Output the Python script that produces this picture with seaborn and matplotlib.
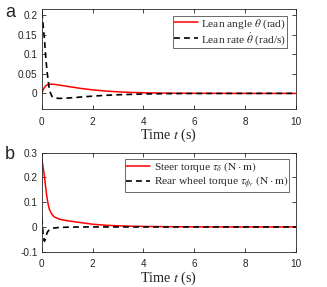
import numpy as np
import pandas as pd
import matplotlib
matplotlib.use("Agg")
import matplotlib.pyplot as plt
import seaborn as sns

# --- values ---
t_a = [0, 0.05, 0.1, 0.15, 0.2, 0.3, 0.4, 0.5, 0.7, 1.0, 1.5, 2.0, 2.5, 3.0, 3.5, 4.0, 5.0, 6.0, 8.0, 10.0]
lean_angle = [0, 0.009, 0.015, 0.019, 0.0215, 0.0235, 0.0235, 0.023, 0.021, 0.018, 0.013, 0.009,
              0.006, 0.004, 0.0025, 0.0015, 0.0006, 0.0002, 0, 0]
lean_rate = [0.207, 0.175, 0.14, 0.095, 0.058, 0.007, -0.008, -0.012, -0.0128, -0.012, -0.0095, -0.007,
             -0.005, -0.0035, -0.0025, -0.0015, -0.0006, -0.0002, 0, 0]

t_b = [0, 0.05, 0.1, 0.15, 0.2, 0.25, 0.3, 0.4, 0.5, 0.7, 1.0, 1.5, 2.0, 2.5, 3.0, 3.5, 4.0, 5.0, 6.0, 8.0, 10.0]
steer_torque = [0.275, 0.24, 0.205, 0.16, 0.12, 0.09, 0.07, 0.05, 0.04, 0.031, 0.025, 0.018, 0.011,
                0.007, 0.0045, 0.003, 0.002, 0.001, 0.0004, 0, 0]
rear_torque = [0.035, -0.03, -0.058, -0.045, -0.025, -0.016, -0.011, -0.006, -0.004, -0.002, -0.001, 0, 0,
               0, 0, 0, 0, 0, 0, 0, 0]

xticks = [0, 2, 4, 6, 8, 10]
yticks_a = [0, 0.05, 0.1, 0.15, 0.2]
yticks_b = [-0.1, 0, 0.1, 0.2, 0.3]

sns.set_style("ticks")
plt.rcParams["font.family"] = ["Liberation Sans", "DejaVu Sans"]
plt.rcParams["mathtext.fontset"] = "stix"

fig = plt.figure(figsize=(3.27, 2.87), dpi=100)
ax_a = fig.add_axes([0.128, 0.62, 0.777, 0.348])
ax_b = fig.add_axes([0.128, 0.123, 0.777, 0.345])

df_a = pd.DataFrame({"t": t_a, "angle": lean_angle, "rate": lean_rate})
df_b = pd.DataFrame({"t": t_b, "steer": steer_torque, "rear": rear_torque})

dash = (0, (3.5, 2.5))
sns.lineplot(data=df_a, x="t", y="angle", ax=ax_a, color="#ff0000", lw=1.1,
             label=r"Lean angle $\theta$ (rad)")
sns.lineplot(data=df_a, x="t", y="rate", ax=ax_a, color="black", lw=1.2,
             linestyle=dash, label=r"Lean rate $\dot{\theta}$ (rad/s)")
sns.lineplot(data=df_b, x="t", y="steer", ax=ax_b, color="#ff0000", lw=1.1,
             label=r"Steer torque $\tau_\delta$ $(\mathrm{N \cdot m})$")
sns.lineplot(data=df_b, x="t", y="rear", ax=ax_b, color="black", lw=1.2,
             linestyle=dash, label=r"Rear wheel torque $\tau_{\phi_r}$ $(\mathrm{N \cdot m})$")

for ax, yt, ylim, anchor in [(ax_a, yticks_a, (-0.04, 0.215), (0.965, 0.933)),
                             (ax_b, yticks_b, (-0.1, 0.3), (0.974, 0.933))]:
    ax.set_xlim(0, 10)
    ax.set_ylim(*ylim)
    ax.set_xticks(xticks)
    ax.set_yticks(yt)
    ax.set_yticklabels([f"{v:g}" for v in yt])
    ax.tick_params(direction="in", top=True, right=True, length=3, width=0.6,
                   labelsize=7.2, colors="#262626")
    ax.tick_params(axis="x", pad=5.5)
    ax.tick_params(axis="y", pad=3)
    for s in ax.spines.values():
        s.set_linewidth(0.6)
        s.set_color("#262626")
    ax.set_xlabel(r"Time $t$ (s)", family="Liberation Serif", fontsize=10.2, labelpad=0)
    ax.set_ylabel("")
    leg = ax.legend(loc="upper right", bbox_to_anchor=anchor, fancybox=False,
                    prop={"family": "Liberation Serif", "size": 8.2},
                    handlelength=2.1, handletextpad=0.3, borderpad=0.1, labelspacing=0.0,
                    borderaxespad=0)
    leg.get_frame().set_edgecolor("#262626")
    leg.get_frame().set_linewidth(0.6)

fig.text(0.015, 0.94, "a", fontsize=13, family="Liberation Sans")
fig.text(0.015, 0.445, "b", fontsize=13, family="Liberation Sans")

fig.savefig("out.png", dpi=100)
